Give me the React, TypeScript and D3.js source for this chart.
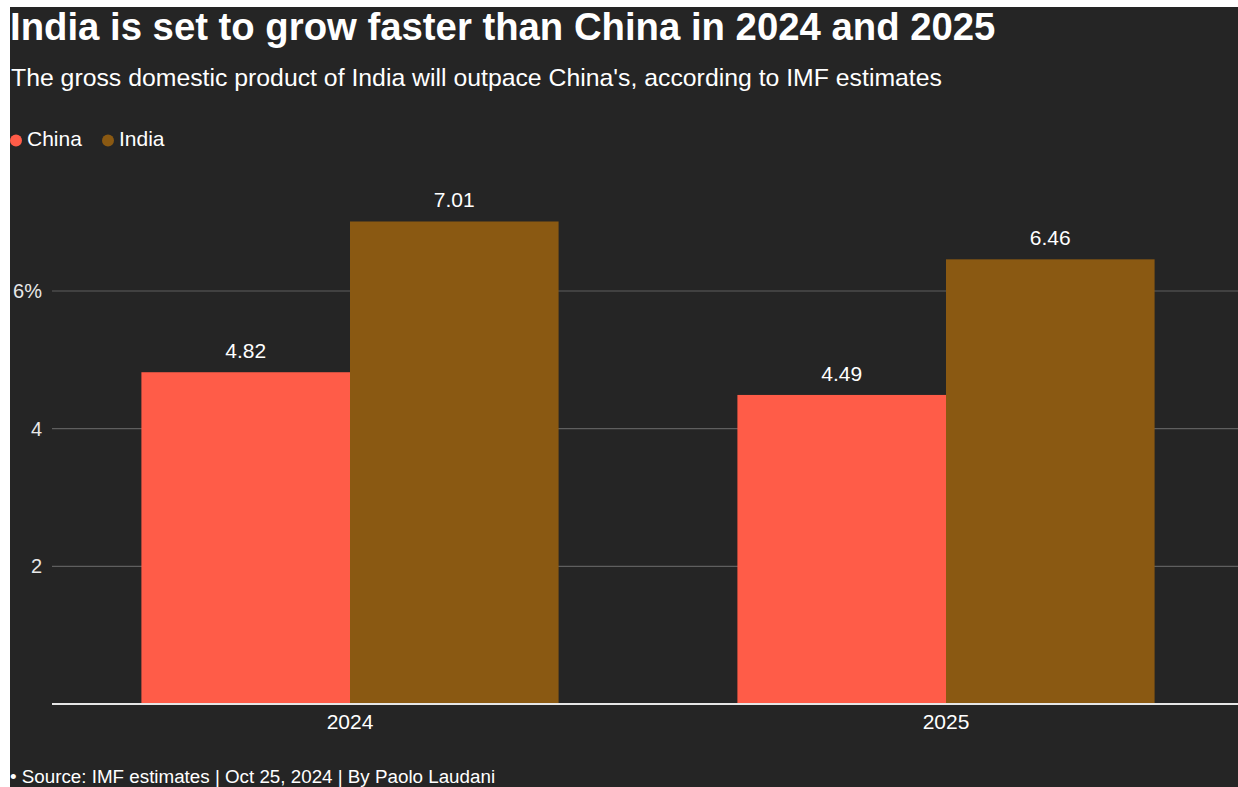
import React from "react";
import * as d3 from "d3";

const years = ["2024", "2025"];
const seriesNames = ["China", "India"];
const chinaValues = [4.82, 4.49];
const indiaValues = [7.01, 6.46];
const yTicks = [2, 4, 6];
const colors = ["#ff5c48", "#8a5912"];

const W = 1228;
const H = 780;
const FONT = "'Liberation Sans', Arial, Helvetica, sans-serif";

export default function App() {
  const x0 = d3.scaleBand<string>().domain(years).range([42, 1234]).paddingInner(0.3).paddingOuter(0.15);
  const x1 = d3.scaleBand<string>().domain(seriesNames).range([0, x0.bandwidth()]);
  const y = d3.scaleLinear().domain([0, 6]).range([697, 284]);
  const color = d3.scaleOrdinal<string, string>().domain(seriesNames).range(colors);
  const values = [chinaValues, indiaValues];

  return (
    <svg
      width={W}
      height={H}
      style={{ position: "absolute", left: 10, top: 7, background: "#252525", fontFamily: FONT, overflow: "visible" }}
    >
      <text x={0} y={32.5} fill="#ffffff" fontSize={38.3} fontWeight="bold">
        India is set to grow faster than China in 2024 and 2025
      </text>
      <text x={1} y={78.5} fill="#ffffff" fontSize={24.8}>
        The gross domestic product of India will outpace China's, according to IMF estimates
      </text>
      {seriesNames.map((s, i) => (
        <g key={s} transform={`translate(${i === 0 ? 0 : 92},0)`}>
          <circle cx={6} cy={133.5} r={6} fill={color(s)} />
          <text x={17} y={139} fill="#ffffff" fontSize={21}>{s}</text>
        </g>
      ))}
      {yTicks.map((t) => (
        <g key={t}>
          <line x1={42} x2={W} y1={y(t)} y2={y(t)} stroke="#5f5f5f" strokeWidth={1.2} />
          <text x={32} y={y(t) + 7} fill="#e8e8e8" fontSize={20} textAnchor="end">
            {t === 6 ? `${t}%` : t}
          </text>
        </g>
      ))}
      {years.map((yr, yi) => (
        <g key={yr} transform={`translate(${x0(yr)},0)`}>
          {seriesNames.map((s, si) => {
            const v = values[si][yi];
            const bx = x1(s)!;
            return (
              <g key={s}>
                <rect x={bx} y={y(v)} width={x1.bandwidth()} height={y(0) - y(v)} fill={color(s)} />
                <text
                  x={bx + x1.bandwidth() / 2}
                  y={y(v) - 14}
                  fill="#ffffff"
                  fontSize={21}
                  textAnchor="middle"
                >
                  {v.toFixed(2)}
                </text>
              </g>
            );
          })}
          <text x={x0.bandwidth() / 2} y={y(0) + 25} fill="#ffffff" fontSize={21} textAnchor="middle">
            {yr}
          </text>
        </g>
      ))}
      <line x1={42} x2={W} y1={y(0)} y2={y(0)} stroke="#e6e6e6" strokeWidth={2} />
      <text x={0} y={776} fill="#ffffff" fontSize={18.8}>
        • Source: IMF estimates | Oct 25, 2024 | By Paolo Laudani
      </text>
    </svg>
  );
}
